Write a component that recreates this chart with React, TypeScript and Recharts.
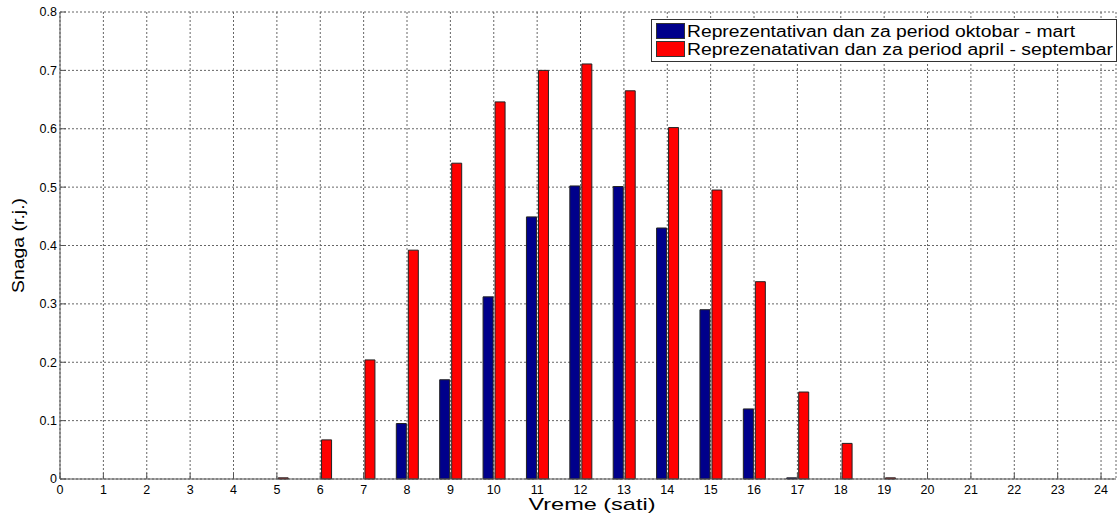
import React from 'react';
import { BarChart, Bar, XAxis, YAxis, CartesianGrid, Legend, Label } from 'recharts';

const hours = [0, 1, 2, 3, 4, 5, 6, 7, 8, 9, 10, 11, 12, 13, 14, 15, 16, 17, 18, 19, 20, 21, 22, 23, 24];
const winterValues = [0, 0, 0, 0, 0, 0, 0, 0, 0.095, 0.17, 0.312, 0.449, 0.502, 0.501, 0.43, 0.29, 0.12, 0.002, 0, 0, 0, 0, 0, 0, 0];
const summerValues = [0, 0, 0, 0, 0, 0.002, 0.067, 0.204, 0.392, 0.541, 0.646, 0.7, 0.711, 0.665, 0.602, 0.495, 0.338, 0.149, 0.061, 0.002, 0, 0, 0, 0, 0];
const yTicks = [0, 0.1, 0.2, 0.3, 0.4, 0.5, 0.6, 0.7, 0.8];
const yTickLabels = ['0', '0.1', '0.2', '0.3', '0.4', '0.5', '0.6', '0.7', '0.8'];
const seriesNames = ['Reprezentativan dan za period oktobar - mart', 'Reprezenatativan dan za period april - septembar'];
const seriesColors = ['#00008B', '#FF0000'];

const data = hours.map((h, i) => ({ hour: h, winter: winterValues[i], summer: summerValues[i] }));

const FONT = '"Liberation Sans", Arial, Helvetica, sans-serif';
const AXIS = '#555';

const LegendBox = () => (
  <div style={{ position: 'relative', width: 0, height: 0, overflow: 'visible' }}>
    <svg width={466} height={43} style={{ position: 'absolute', left: 0, top: 0, display: 'block', overflow: 'visible' }}>
      <rect x={0.5} y={0.5} width={465} height={42} fill="#fff" stroke="#333" strokeWidth={1} />
      {seriesNames.map((name, i) => (
        <g key={name}>
          <rect x={5.5} y={4.5 + i * 18} width={28} height={15} fill={seriesColors[i]} stroke="#333" strokeWidth={1} />
          <text
            x={36}
            y={17.5 + i * 18}
            fontSize={16}
            fontFamily={FONT}
            fill="#000"
            textLength={i === 0 ? 388 : 426}
            lengthAdjust="spacingAndGlyphs"
          >
            {name}
          </text>
        </g>
      ))}
    </svg>
  </div>
);

export default function App() {
  return (
    <div style={{ position: 'absolute', left: 0, top: 0, width: 1118, height: 516, background: '#fff' }}>
      <BarChart
        width={1118}
        height={516}
        data={data}
        margin={{ top: 12, right: 2, bottom: 0, left: 0 }}
        barSize={10}
        barGap={2}
        style={{ fontFamily: FONT }}
      >
        <CartesianGrid stroke="#666" strokeDasharray="2 2" />
        <XAxis
          dataKey="hour"
          type="number"
          domain={[0, 24.345]}
          ticks={hours}
          interval={0}
          allowDataOverflow
          height={37}
          stroke={AXIS}
          tickSize={-6}
          tickMargin={12}
          tick={{ fontSize: 12.5, fill: '#000', fontFamily: FONT }}
        >
          <Label
            content={(props: any) => {
              const vb = props.viewBox || { x: 60, y: 479, width: 1056, height: 37 };
              return (
                <text
                  x={vb.x + vb.width / 2 + 4}
                  y={vb.y + 31}
                  textAnchor="middle"
                  fontSize={17}
                  fontFamily={FONT}
                  fill="#000"
                  textLength={127}
                  lengthAdjust="spacingAndGlyphs"
                >
                  Vreme (sati)
                </text>
              );
            }}
          />
        </XAxis>
        <XAxis
          xAxisId="top"
          dataKey="hour"
          type="number"
          orientation="top"
          domain={[0, 24.345]}
          ticks={hours}
          interval={0}
          allowDataOverflow
          height={0}
          stroke={AXIS}
          tickSize={-6}
          tickFormatter={() => ''}
        />
        <YAxis
          domain={[0, 0.8]}
          ticks={yTicks}
          interval={0}
          width={60}
          stroke={AXIS}
          tickSize={-6}
          tickMargin={9}
          tickFormatter={(v: number) => yTickLabels[yTicks.indexOf(v)] ?? String(v)}
          tick={{ fontSize: 12.5, fill: '#000', fontFamily: FONT }}
        >
          <Label
            content={(props: any) => {
              const vb = props.viewBox || { x: 0, y: 12, width: 60, height: 467 };
              const cx = 18.5;
              const cy = vb.y + vb.height / 2;
              return (
                <text
                  x={cx}
                  y={cy}
                  transform={`rotate(-90 ${cx} ${cy})`}
                  textAnchor="middle"
                  dominantBaseline="central"
                  fontSize={17}
                  fontFamily={FONT}
                  fill="#000"
                  textLength={95}
                  lengthAdjust="spacingAndGlyphs"
                >
                  Snaga (r.j.)
                </text>
              );
            }}
          />
        </YAxis>
        <YAxis
          yAxisId="right"
          orientation="right"
          domain={[0, 0.8]}
          ticks={yTicks}
          interval={0}
          width={0}
          stroke={AXIS}
          tickSize={-6}
          tickFormatter={() => ''}
        />
        <Legend
          content={() => <LegendBox />}
          wrapperStyle={{ position: 'absolute', left: 651, top: 19, width: 0, height: 0, overflow: 'visible' }}
        />
        <Bar dataKey="winter" name={seriesNames[0]} fill={seriesColors[0]} stroke="#222" strokeWidth={1} isAnimationActive={false} />
        <Bar dataKey="summer" name={seriesNames[1]} fill={seriesColors[1]} stroke="#222" strokeWidth={1} isAnimationActive={false} />
      </BarChart>
    </div>
  );
}
